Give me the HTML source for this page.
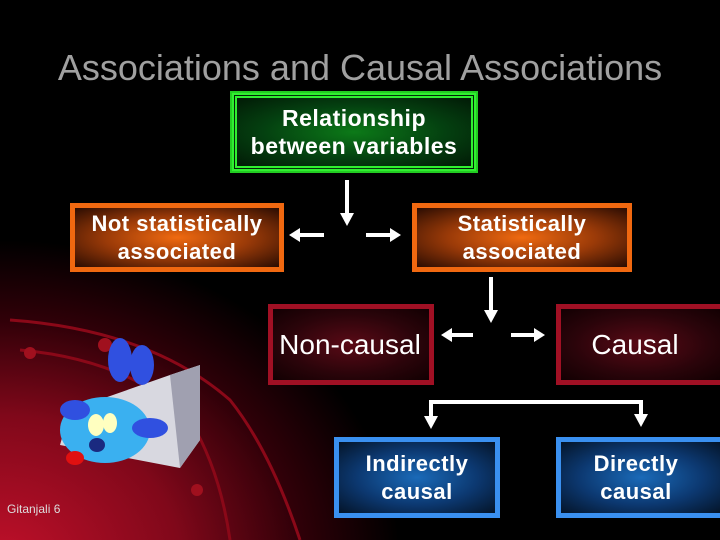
<!DOCTYPE html>
<html><head><style>
body{margin:0;width:720px;height:540px;overflow:hidden;background:#000;font-family:"Liberation Sans",sans-serif;position:relative}
.bg{position:absolute;left:0;top:0;width:720px;height:540px;background:radial-gradient(ellipse 400px 320px at 0px 560px,#c0102a 0%,#80081a 45%,#300008 75%,#000 100%)}
.t{position:absolute;left:0;width:720px;top:47px;text-align:center;font-size:36px;color:#a0a0a0;white-space:nowrap}
.b{position:absolute;box-sizing:border-box;display:flex;align-items:center;justify-content:center;text-align:center;color:#fff;font-size:22px;line-height:28px;white-space:nowrap}
.bold{font-weight:bold;letter-spacing:.5px}
.g{border:5px double #30f030;background:radial-gradient(ellipse at center,#0c7a18 0%,#044010 55%,#021a06 100%);outline:2px solid #22cc22}
.o{border:5px solid #f06810;background:radial-gradient(ellipse at center,#f06a10 0%,#9a3a08 50%,#2a0c02 100%)}
.r{border:5px solid #a01024;background:radial-gradient(ellipse at center,#5a0a16 0%,#2a040a 60%,#120002 100%);font-size:28px}
.bl{border:5px solid #3a90f0;background:radial-gradient(ellipse at center,#1a6ab8 0%,#0c3870 55%,#041428 100%)}
</style></head><body>
<div class="bg"></div>
<svg width="720" height="540" style="position:absolute;left:0;top:0">
<g fill="none" stroke="#8a0818" stroke-width="3">
<path d="M10 320 Q150 330 230 400 Q270 450 300 540"/>
<path d="M20 350 Q130 360 190 420 Q220 470 230 540"/>
</g>
<circle cx="105" cy="345" r="7" fill="#a0101e"/><circle cx="30" cy="353" r="6" fill="#a0101e"/><circle cx="197" cy="490" r="6" fill="#a0101e"/>
<polygon points="70,410 170,375 200,365 200,440 180,468 60,445" fill="#d8d8e0"/>
<polygon points="170,375 200,365 200,440 180,468" fill="#a0a0b0"/>
<ellipse cx="105" cy="430" rx="45" ry="33" fill="#3ab0f0"/>
<ellipse cx="120" cy="360" rx="12" ry="22" fill="#3050e0"/><ellipse cx="142" cy="365" rx="12" ry="20" fill="#3050e0"/>
<ellipse cx="75" cy="410" rx="15" ry="10" fill="#3050e0"/><ellipse cx="150" cy="428" rx="18" ry="10" fill="#3050e0"/>
<ellipse cx="96" cy="425" rx="8" ry="11" fill="#ffffc0"/><ellipse cx="110" cy="423" rx="7" ry="10" fill="#ffffc0"/>
<ellipse cx="97" cy="445" rx="8" ry="7" fill="#1a2a80"/><ellipse cx="75" cy="458" rx="9" ry="7" fill="#e01010"/>
<g stroke="#fff" stroke-width="4" fill="#fff">
<line x1="347" y1="180" x2="347" y2="215"/><polygon points="340,213 354,213 347,226" stroke="none"/>
<line x1="298" y1="235" x2="324" y2="235"/><polygon points="300,228 300,242 289,235" stroke="none"/>
<line x1="366" y1="235" x2="392" y2="235"/><polygon points="390,228 390,242 401,235" stroke="none"/>
<line x1="491" y1="277" x2="491" y2="312"/><polygon points="484,310 498,310 491,323" stroke="none"/>
<line x1="450" y1="335" x2="473" y2="335"/><polygon points="452,328 452,342 441,335" stroke="none"/>
<line x1="511" y1="335" x2="536" y2="335"/><polygon points="534,328 534,342 545,335" stroke="none"/>
<polyline points="431,418 431,402 641,402 641,416" fill="none"/>
<polygon points="424,416 438,416 431,429" stroke="none"/><polygon points="634,414 648,414 641,427" stroke="none"/>
</g>
</svg>
<div class="t">Associations and Causal Associations</div>
<div class="b g bold" style="left:232px;top:93px;width:244px;height:78px;font-size:23px">Relationship<br>between variables</div>
<div class="b o bold" style="left:70px;top:203px;width:214px;height:69px">Not statistically<br>associated</div>
<div class="b o bold" style="left:412px;top:203px;width:220px;height:69px">Statistically<br>associated</div>
<div class="b r" style="left:268px;top:304px;width:166px;height:81px;padding-right:2px">Non-causal</div>
<div class="b r" style="left:556px;top:304px;width:170px;height:81px;padding-right:12px">Causal</div>
<div class="b bl bold" style="left:334px;top:437px;width:166px;height:81px">Indirectly<br>causal</div>
<div class="b bl bold" style="left:556px;top:437px;width:170px;height:81px;padding-right:10px">Directly<br>causal</div>
<div style="position:absolute;left:7px;top:502px;font-size:12px;color:#ddd">Gitanjali 6</div>
</body></html>
